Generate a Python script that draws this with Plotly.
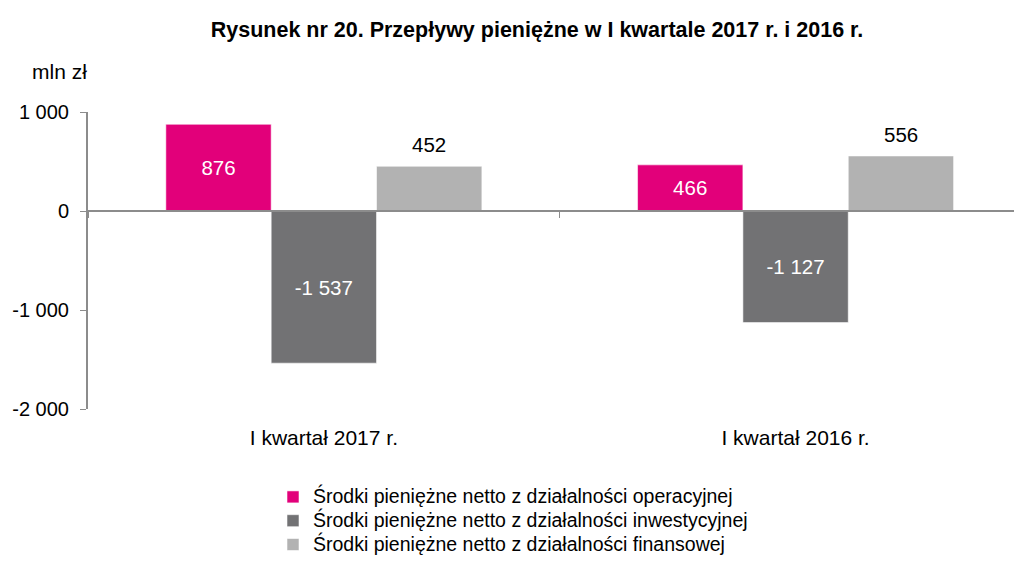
import plotly.graph_objects as go

categories = ["I kwartał 2017 r.", "I kwartał 2016 r."]
series_names = [
    "Środki pieniężne netto z działalności operacyjnej",
    "Środki pieniężne netto z działalności inwestycyjnej",
    "Środki pieniężne netto z działalności finansowej",
]
operacyjna = [876, 466]
inwestycyjna = [-1537, -1127]
finansowa = [452, 556]
y_tickvals = [1000, 0, -1000, -2000]

colors = ["#E2007A", "#727274", "#B2B2B2"]
FONT = "Liberation Sans, Arial, sans-serif"

# the page adds an 8px body margin, so the figure is 8px smaller than the window
OFF = 8
W, H = 1022 - OFF, 569 - OFF
L, T = 88 - OFF, 112 - OFF
B = H - (409 - OFF)
PW, PH = W - L, H - T - B
BARGAP = 0.33


def fmt(v):
    s = f"{abs(v):,}".replace(",", " ")
    return ("-" if v < 0 else "") + s


fig = go.Figure()
series = [operacyjna, inwestycyjna, finansowa]
n = len(series)
annotations = []
for i, (name, vals) in enumerate(zip(series_names, series)):
    inside = i < 2
    fig.add_trace(go.Bar(
        x=categories, y=vals,
        name=f'<span style="font-size:19.5px">{name}</span>',
        marker=dict(color=colors[i], line=dict(color="rgba(255,255,255,0.55)", width=1)),
        text=[fmt(v) for v in vals] if inside else None,
        textposition="inside" if inside else "none",
        insidetextanchor="middle",
        textangle=0,
        textfont=dict(family=FONT, size=20.5, color="white"),
        cliponaxis=False,
    ))
    if not inside:
        bw = (1 - BARGAP) / n
        off = (i - (n - 1) / 2) * bw
        for k, v in enumerate(vals):
            annotations.append(dict(
                x=k + off, y=v, xref="x", yref="y", text=fmt(v), showarrow=False,
                xanchor="center", yanchor="bottom", yshift=8,
                font=dict(family=FONT, size=20.5, color="black")))

# zero-level category axis (line + boundary ticks)
fig.add_trace(go.Scatter(x=categories, y=[0, 0], xaxis="x2", mode="markers",
                         marker=dict(opacity=0), showlegend=False, hoverinfo="skip"))

annotations.append(dict(text="mln zł", xref="paper", yref="paper",
                        x=(30 - OFF - L) / PW, y=(H - B - (71 - OFF)) / PH,
                        xanchor="left", yanchor="middle", showarrow=False,
                        font=dict(family=FONT, size=21, color="black")))

fig.update_layout(
    width=W, height=H,
    margin=dict(l=L, r=0, t=T, b=B, autoexpand=False),
    paper_bgcolor="white", plot_bgcolor="white",
    barmode="group", bargap=BARGAP, bargroupgap=0,
    font=dict(family=FONT, size=20, color="black"),
    title=dict(text="<b>Rysunek nr 20. Przepływy pieniężne w I kwartale 2017 r. i 2016 r.</b>",
               x=(537 - OFF) / W, xanchor="center", y=1 - (29 - OFF) / H, yanchor="middle",
               font=dict(family=FONT, size=21.5, color="black")),
    xaxis=dict(
        type="category", range=[-0.5, 1.48], showline=False, showgrid=False,
        zeroline=False, ticks="outside", ticklen=10, tickcolor="rgba(0,0,0,0)",
        tickfont=dict(family=FONT, size=21, color="black"), automargin=False,
    ),
    xaxis2=dict(
        type="category", range=[-0.5, 1.48], overlaying="x", anchor="free",
        position=(409 - 211) / (409 - 112), showline=True, linecolor="#8C8C8C", linewidth=2,
        ticks="outside", tickson="boundaries", ticklen=6, tickcolor="#8C8C8C",
        showticklabels=False, showgrid=False, zeroline=False, automargin=False,
    ),
    yaxis=dict(
        range=[-2000, 1000], tickvals=y_tickvals, ticktext=[fmt(v) for v in y_tickvals],
        showline=True, linecolor="#8C8C8C", linewidth=2, ticks="outside", ticklen=6,
        tickcolor="#8C8C8C", showgrid=False, zeroline=False, automargin=False,
        ticklabelstandoff=7,
        tickfont=dict(family=FONT, size=20, color="black"),
    ),
    legend=dict(
        xref="container", yref="container",
        x=(273 - OFF) / W, xanchor="left", y=1 - (480 - OFF) / H, yanchor="top",
        orientation="v", font=dict(family=FONT, size=16, color="black"),
        tracegroupgap=0, itemwidth=30, bgcolor="rgba(0,0,0,0)",
    ),
    annotations=annotations,
)

fig.write_html("out.html")
